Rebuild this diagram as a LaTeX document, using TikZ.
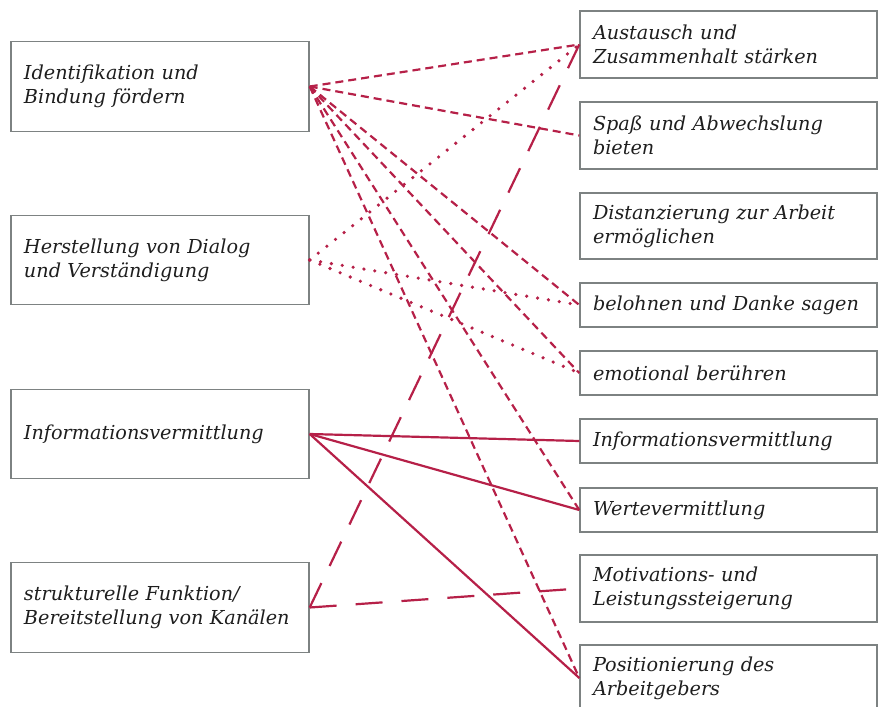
\documentclass[tikz,border=0pt]{standalone}
\usepackage{fontspec}
\setmainfont{DejaVu Serif}
\usepackage{xcolor}
\definecolor{linkred}{RGB}{182,32,72}
\definecolor{boxgray}{RGB}{125,130,130}
\definecolor{textgray}{RGB}{30,30,30}

\begin{document}
\begin{tikzpicture}[x=1bp,y=-1bp,
		box/.style={draw=boxgray, line width=1.4bp, text=textgray, font=\fontsize{19.3}{24}\selectfont\itshape, align=left, inner xsep=13bp, inner ysep=0bp},
		leftbox/.style={box, text width=272bp, minimum height=89.5bp},
		rightbox/.style={box, text width=271bp},
		link/.style={draw=linkred, line width=2.2bp},
		dashlink/.style={link, dash pattern=on 8bp off 5bp},
		dotlink/.style={link, line width=3.6bp, line cap=round, dash pattern=on 0bp off 11bp},
		longdashlink/.style={link, dash pattern=on 27bp off 19bp}]
		\useasboundingbox (0,0) rectangle (882,707);
		% left column
		\node[leftbox] (ident) at (160,86.5) {Identifikation und\\Bindung fördern};
		\node[leftbox] (dialog) at (160,260) {Herstellung von Dialog\\und Verständigung};
		\node[leftbox] (info) at (160,434) {Informationsvermittlung};
		\node[leftbox] (struct) at (160,607.5) {strukturelle Funktion/\\Bereitstellung von Kanälen};
		% right column
		\node[rightbox, minimum height=67bp] (austausch) at (728.5,44.5) {Austausch und\\Zusammenhalt stärken};
		\node[rightbox, minimum height=67bp] (spass) at (728.5,135.5) {Spaß und Abwechslung\\bieten};
		\node[rightbox, minimum height=66bp] (distanz) at (728.5,226) {Distanzierung zur Arbeit\\ermöglichen};
		\node[rightbox, minimum height=44bp] (danke) at (728.5,305) {belohnen und Danke sagen};
		\node[rightbox, minimum height=44bp] (emotion) at (728.5,373) {emotional berühren};
		\node[rightbox, minimum height=44bp] (rinfo) at (728.5,441) {Informationsvermittlung};
		\node[rightbox, minimum height=44bp] (werte) at (728.5,510) {Wertevermittlung};
		\node[rightbox, minimum height=67bp] (motiv) at (728.5,588.5) {Motivations- und\\Leistungssteigerung};
		\node[rightbox, minimum height=66bp] (arbeitgeber) at (728.5,678) {Positionierung des\\Arbeitgebers};
		% connectors
		\draw[dashlink] (ident.east) -- (austausch.west);
		\draw[dashlink] (ident.east) -- (spass.west);
		\draw[dashlink] (ident.east) -- (danke.west);
		\draw[dashlink] (ident.east) -- (emotion.west);
		\draw[dashlink] (ident.east) -- (werte.west);
		\draw[dashlink] (ident.east) -- (arbeitgeber.west);
		\draw[dotlink] (dialog.east) -- (austausch.west);
		\draw[dotlink] (dialog.east) -- (danke.west);
		\draw[dotlink] (dialog.east) -- (emotion.west);
		\draw[link] (info.east) -- (rinfo.west);
		\draw[link] (info.east) -- (werte.west);
		\draw[link] (info.east) -- (arbeitgeber.west);
		\draw[longdashlink] (struct.east) -- (austausch.west);
		\draw[longdashlink] (struct.east) -- (motiv.west);
\end{tikzpicture}
\end{document}
